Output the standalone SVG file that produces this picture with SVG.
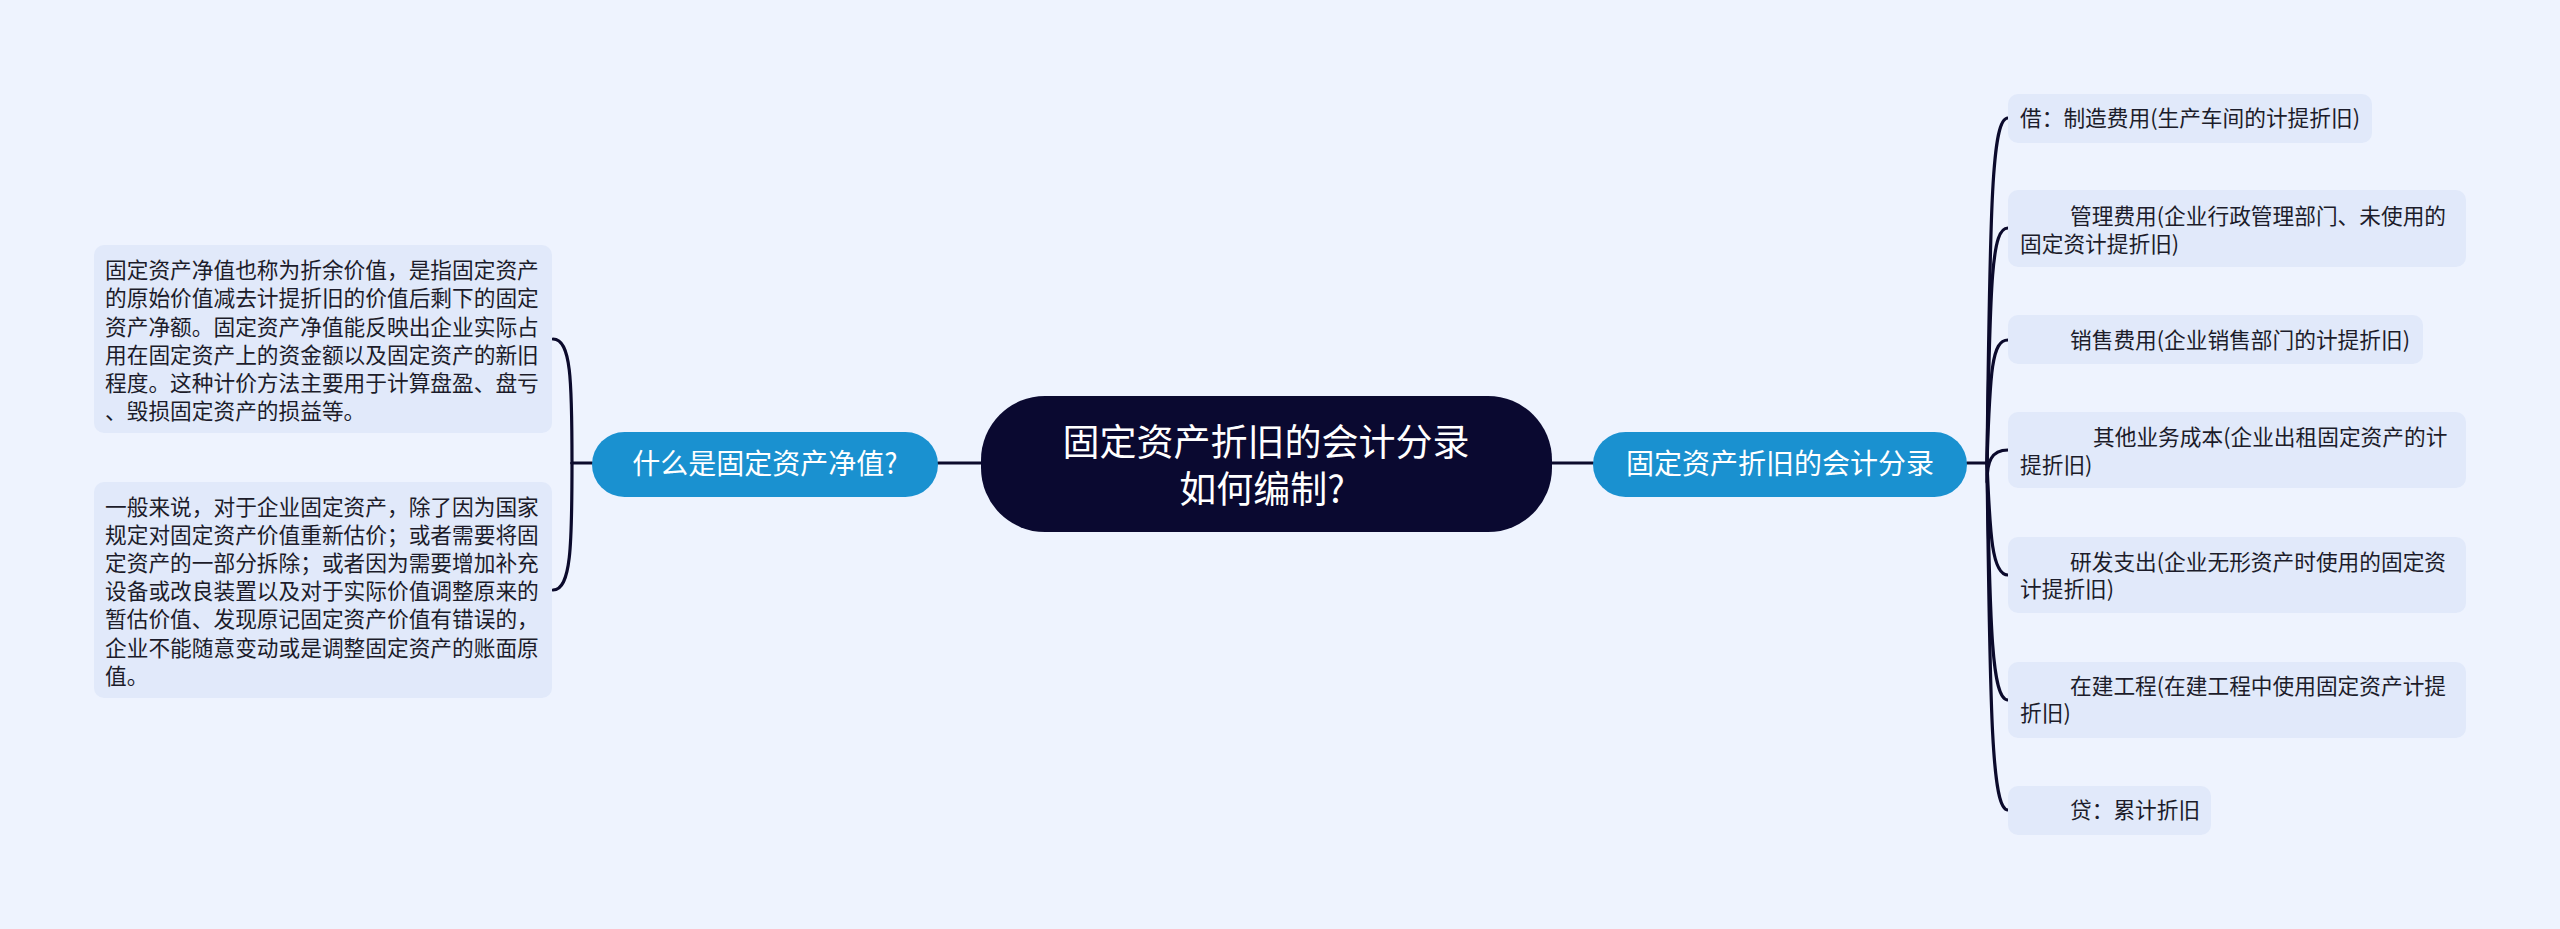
<svg xmlns="http://www.w3.org/2000/svg" width="2560" height="929" viewBox="0 0 2560 929">
<style>
text{font-family:"Noto Sans CJK SC","Noto Sans",sans-serif;}
.leaf{fill:#e1e9fa;}
.lt{font-size:21.7px;fill:#1c1c2a;}
.main{fill:#1a91d0;}
.mt{font-size:28px;fill:#ffffff;text-anchor:middle;}
.ct{font-size:37px;fill:#ffffff;text-anchor:middle;}
.ln{fill:none;stroke:#0b0a2c;stroke-width:3.2;stroke-linecap:round;}
</style>
<rect width="2560" height="929" fill="#eef3fe"/>
<g id="connectors">
<path class="ln" d="M938 463 L981 463"/>
<path class="ln" d="M1552 463 L1593 463"/>
<path class="ln" d="M592 463 L572 463"/>
<path class="ln" d="M572 463 C572 380 571 339 553 339"/>
<path class="ln" d="M572 463 C572 546 571 590 553 590"/>
<path class="ln" d="M1967 463 L1987 463"/>
<path class="ln" d="M1987 463 C1990 200 1992 118 2008 118"/>
<path class="ln" d="M1987 463 C1990 275 1992 228 2008 228"/>
<path class="ln" d="M1987 463 C1990 370 1992 340 2008 340"/>
<path class="ln" d="M1987 482 C1987 462 1991 450 2008 450"/>
<path class="ln" d="M1987 463 C1990 535 1992 575 2008 575"/>
<path class="ln" d="M1987 463 C1990 630 1992 700 2008 700"/>
<path class="ln" d="M1987 463 C1990 720 1992 810 2008 810"/>
</g>
<g id="central">
<rect x="981" y="396" width="571" height="136" rx="64" fill="#0a0930"/>
<text class="ct" x="1266" y="456">固定资产折旧的会计分录</text>
<text class="ct" x="1262" y="503">如何编制?</text>
</g>
<g id="node-left">
<rect class="main" x="592" y="432" width="346" height="65" rx="32.5"/>
<text class="mt" x="765" y="474">什么是固定资产净值?</text>
</g>
<g id="node-right">
<rect class="main" x="1593" y="432" width="374" height="65" rx="32.5"/>
<text class="mt" x="1780" y="474">固定资产折旧的会计分录</text>
</g>
<g id="leaf-l1">
<rect class="leaf" x="94" y="245" width="458" height="188" rx="10"/>
<text class="lt" x="105" y="278">固定资产净值也称为折余价值，是指固定资产</text>
<text class="lt" x="105" y="306">的原始价值减去计提折旧的价值后剩下的固定</text>
<text class="lt" x="105" y="335">资产净额。固定资产净值能反映出企业实际占</text>
<text class="lt" x="105" y="363">用在固定资产上的资金额以及固定资产的新旧</text>
<text class="lt" x="105" y="391">程度。这种计价方法主要用于计算盘盈、盘亏</text>
<text class="lt" x="105" y="419">、毁损固定资产的损益等。</text>
</g>
<g id="leaf-l2">
<rect class="leaf" x="94" y="482" width="458" height="216" rx="10"/>
<text class="lt" x="105" y="515">一般来说，对于企业固定资产，除了因为国家</text>
<text class="lt" x="105" y="543">规定对固定资产价值重新估价；或者需要将固</text>
<text class="lt" x="105" y="571">定资产的一部分拆除；或者因为需要增加补充</text>
<text class="lt" x="105" y="599">设备或改良装置以及对于实际价值调整原来的</text>
<text class="lt" x="105" y="627">暂估价值、发现原记固定资产价值有错误的，</text>
<text class="lt" x="105" y="656">企业不能随意变动或是调整固定资产的账面原</text>
<text class="lt" x="105" y="684">值。</text>
</g>
<g id="leaf-r1">
<rect class="leaf" x="2008" y="94" width="364" height="49" rx="10"/>
<text class="lt" x="2020" y="126">借：制造费用(生产车间的计提折旧)</text>
</g>
<g id="leaf-r2">
<rect class="leaf" x="2008" y="190" width="458" height="77" rx="10"/>
<text class="lt" x="2070" y="224">管理费用(企业行政管理部门、未使用的</text>
<text class="lt" x="2020" y="252">固定资计提折旧)</text>
</g>
<g id="leaf-r3">
<rect class="leaf" x="2008" y="315" width="415" height="49" rx="10"/>
<text class="lt" x="2070" y="348">销售费用(企业销售部门的计提折旧)</text>
</g>
<g id="leaf-r4">
<rect class="leaf" x="2008" y="412" width="458" height="76" rx="10"/>
<text class="lt" x="2093" y="445">其他业务成本(企业出租固定资产的计</text>
<text class="lt" x="2020" y="473">提折旧)</text>
</g>
<g id="leaf-r5">
<rect class="leaf" x="2008" y="537" width="458" height="76" rx="10"/>
<text class="lt" x="2070" y="570">研发支出(企业无形资产时使用的固定资</text>
<text class="lt" x="2020" y="597">计提折旧)</text>
</g>
<g id="leaf-r6">
<rect class="leaf" x="2008" y="662" width="458" height="76" rx="10"/>
<text class="lt" x="2070" y="694">在建工程(在建工程中使用固定资产计提</text>
<text class="lt" x="2020" y="721">折旧)</text>
</g>
<g id="leaf-r7">
<rect class="leaf" x="2008" y="786" width="203" height="49" rx="10"/>
<text class="lt" x="2070" y="818">贷：累计折旧</text>
</g>
</svg>
